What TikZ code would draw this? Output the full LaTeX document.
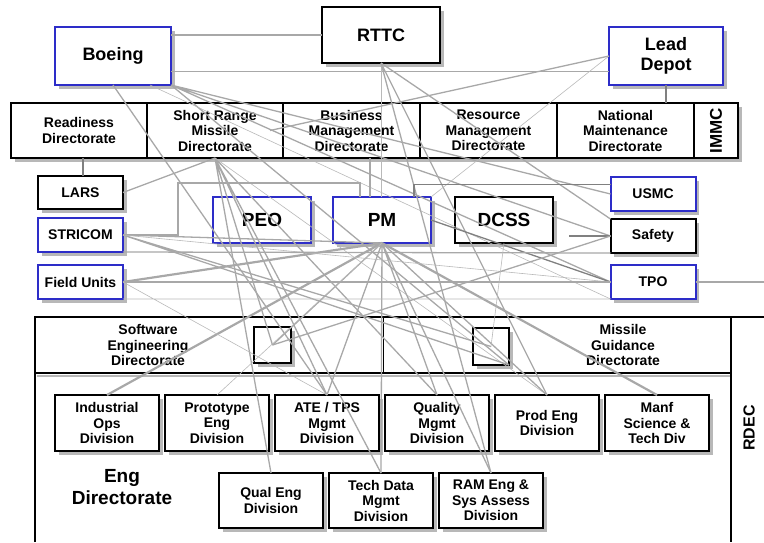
\documentclass[tikz,border=0pt]{standalone}
\usepackage{fontspec}
\setmainfont{Liberation Sans}
\usepackage{xcolor}
\usetikzlibrary{positioning, shadows, calc}
\definecolor{orgblue}{RGB}{45,45,200}
\definecolor{linkgray}{RGB}{168,168,168}

\begin{document}
\begin{tikzpicture}[
    x=1pt, y=-1pt,
    box/.style={draw, fill=white, line width=2pt, outer sep=0pt, inner sep=1pt, align=center,
        font=\bfseries\fontsize{14}{15.5}\selectfont,
        drop shadow={shadow xshift=3.5pt, shadow yshift=-3.5pt, fill=black!28, opacity=1}},
    bluebox/.style={box, draw=orgblue},
    dirbox/.style={box, minimum width=137pt, minimum height=55pt},
    divbox/.style={box, minimum width=104pt, minimum height=56pt},
    smallbox/.style={minimum width=85pt, minimum height=34pt},
    midbox/.style={minimum width=98pt, minimum height=46pt, font=\bfseries\fontsize{19}{22}\selectfont},
    bandtext/.style={align=center, font=\bfseries\fontsize{14}{15.7}\selectfont},
    link/.style={draw=linkgray, line width=1.3pt},
    thinlink/.style={draw=linkgray!80, line width=0.6pt},
    heavylink/.style={draw=linkgray, line width=2.2pt},
    darklink/.style={draw=black!50, line width=1.3pt}
]
\useasboundingbox (0,0) rectangle (764,542);

% RDEC frame
\draw[black!28, line width=2pt] (37,376) -- (731,376);
\draw[line width=2pt] (35,542) -- (35,317) -- (764,317);
\draw[line width=2pt] (35,373) -- (731,373);
\draw[line width=2pt] (731,317) -- (731,542);
\draw[line width=0.6pt] (383,317) -- (383,373);

% Nodes
\node[bluebox, minimum width=116pt, minimum height=58pt, font=\bfseries\fontsize{18}{20}\selectfont] (boeing) at (113,56) {Boeing};
\node[box, minimum width=118pt, minimum height=56pt, font=\bfseries\fontsize{18}{20}\selectfont] (rttc) at (381,35) {RTTC};
\node[bluebox, minimum width=114pt, minimum height=58pt, font=\bfseries\fontsize{18}{20}\selectfont] (lead) at (666,56) {Lead\\Depot};

\node[dirbox, minimum width=136pt] (rd) at (79,130.5) {Readiness\\Directorate};
\node[dirbox, minimum width=136pt] (srm) [right=0pt of rd] {Short Range\\Missile\\Directorate};
\node[dirbox] (bmd) [right=0pt of srm] {Business\\Management\\Directorate};
\node[dirbox] (rmd) [right=0pt of bmd] {Resource\\Management\\Directorate};
\node[dirbox] (nmd) [right=0pt of rmd] {National\\Maintenance\\Directorate};
\node[box, minimum width=44pt, minimum height=55pt] (immc) [right=0pt of nmd] {};
\node[rotate=90, font=\bfseries\fontsize{17}{18}\selectfont] (immctext) at (immc) {IMMC};

\node[box, smallbox, minimum height=33pt] (lars) at (80.5,192.5) {LARS};
\node[bluebox, smallbox] (stricom) at (80.5,235) {STRICOM};
\node[bluebox, smallbox] (field) at (80.5,282) {Field Units};

\node[bluebox, midbox] (peo) at (262,220) {PEO};
\node[bluebox, midbox] (pm) at (382,220) {PM};
\node[box, midbox] (dcss) at (504,220) {DCSS};

\node[bluebox, smallbox] (usmc) at (653,194) {USMC};
\node[box, smallbox] (safety) at (653,236) {Safety};
\node[bluebox, smallbox] (tpo) at (653,282) {TPO};

\node[box, minimum width=37pt, minimum height=36pt] (sqsw) at (272.5,345) {};
\node[box, minimum width=36pt, minimum height=37pt] (sqmg) at (491,346.5) {};
\node[bandtext] (swtext) at (148,345) {Software\\Engineering\\Directorate};
\node[bandtext] (mgtext) at (623,345) {Missile\\Guidance\\Directorate};

\node[divbox] (iod) at (107,423) {Industrial\\Ops\\Division};
\node[divbox] (ped) [right=6pt of iod] {Prototype\\Eng\\Division};
\node[divbox] (ate) [right=6pt of ped] {ATE / TPS\\Mgmt\\Division};
\node[divbox] (qmd) [right=6pt of ate] {Quality\\Mgmt\\Division};
\node[divbox] (prod) [right=6pt of qmd] {Prod Eng\\Division};
\node[divbox] (manf) [right=6pt of prod] {Manf\\Science \&\\Tech Div};

\node[divbox, minimum height=55pt] (qed) at (271,500.5) {Qual Eng\\Division};
\node[divbox, minimum height=55pt] (tdm) [right=6pt of qed] {Tech Data\\Mgmt\\Division};
\node[divbox, minimum height=55pt] (ram) [right=6pt of tdm] {RAM Eng \&\\Sys Assess\\Division};

\node[align=center, font=\bfseries\fontsize{19}{22}\selectfont] (engtext) at (122,487) {Eng\\Directorate};
\node[rotate=90, font=\bfseries\fontsize{16}{18}\selectfont] (rdectext) at (749,428) {RDEC};

% Links
\draw[link] (boeing.20) -- (rttc.west |- boeing.20);
\draw[link] (boeing.-15) -- (lead.west |- boeing.-15);
\draw[link] (boeing.south east) -- (usmc.west) (boeing.south east) -- (safety.west)
    (boeing.south east) -- (tpo.west) (boeing.south east) -- (sqmg.south east)
    (boeing.south) -- (ate.north);
\draw[thinlink] ([xshift=37pt]boeing.south) -- (tpo.south west);

\draw[thinlink] (rttc.south) -- (rttc.south |- pm.north);
\draw[link] (rttc.south) -- (prod.north) (rttc.south) -- (safety.north west) (rttc.south) -- (ram.north);

\draw[link] (lead.west) -- ([xshift=-13pt]srm.east);
\draw[thinlink] (lead.west) -- (pm.north east);
\draw[darklink] (lead.south) -- (lead.south |- nmd.north);

\draw[link] (srm.south) -- (lars.east) (srm.south) -- (qed.north) (srm.south) -- (ate.north)
    (srm.south) -- (qmd.north) (srm.south) -- (tdm.north) (srm.south) -- (sqsw.center);
\draw[thinlink] (srm.south) -- (prod.north);
\draw[darklink] ([xshift=4pt]rd.south) -- ([xshift=2.5pt]lars.north);
\draw[link] ([xshift=18.5pt]bmd.south) -- ([xshift=-12pt]pm.north);

\draw[link] (pm.south) -- (stricom.east) (pm.south) -- (ate.north) (pm.south) -- (qmd.north)
    (pm.south) -- (prod.north) (pm.south) -- (tdm.north) (pm.south) -- (ram.north)
    (pm.south) -- (sqsw.center);
\draw[heavylink] (pm.south) -- (field.east) (pm.south) -- (iod.north) (pm.south) -- (manf.north);
\draw[thinlink] (pm.south) -- (ped.north);
\draw[darklink] (pm.east) -- (tpo.west);

\draw[link] (stricom.east) -- ++(55,0) -- ++(0,-52) -| ([xshift=-22pt]pm.north);
\draw[darklink] (usmc.167) -| ([xshift=32pt]pm.north);
\draw[link] (stricom.east) -- (sqmg.center) (stricom.east) -- (sqmg.south east);
\draw[thinlink] (stricom.east) -- (tpo.west);
\draw[link] (stricom.south east) -- (safety.south west);

\draw[link] (field.east) -- (tpo.west);
\draw[thinlink] (field.south east) -- (tpo.south west) (field.east) -- (ate.north);

\draw[darklink] (safety.west) -- ++(-42,0);
\draw[link] (safety.west) -- (sqsw.center);
\draw[thinlink] (dcss.south) -- (sqmg.center);
\draw[link] (tpo.east) -- ++(69,0);

\end{tikzpicture}
\end{document}
